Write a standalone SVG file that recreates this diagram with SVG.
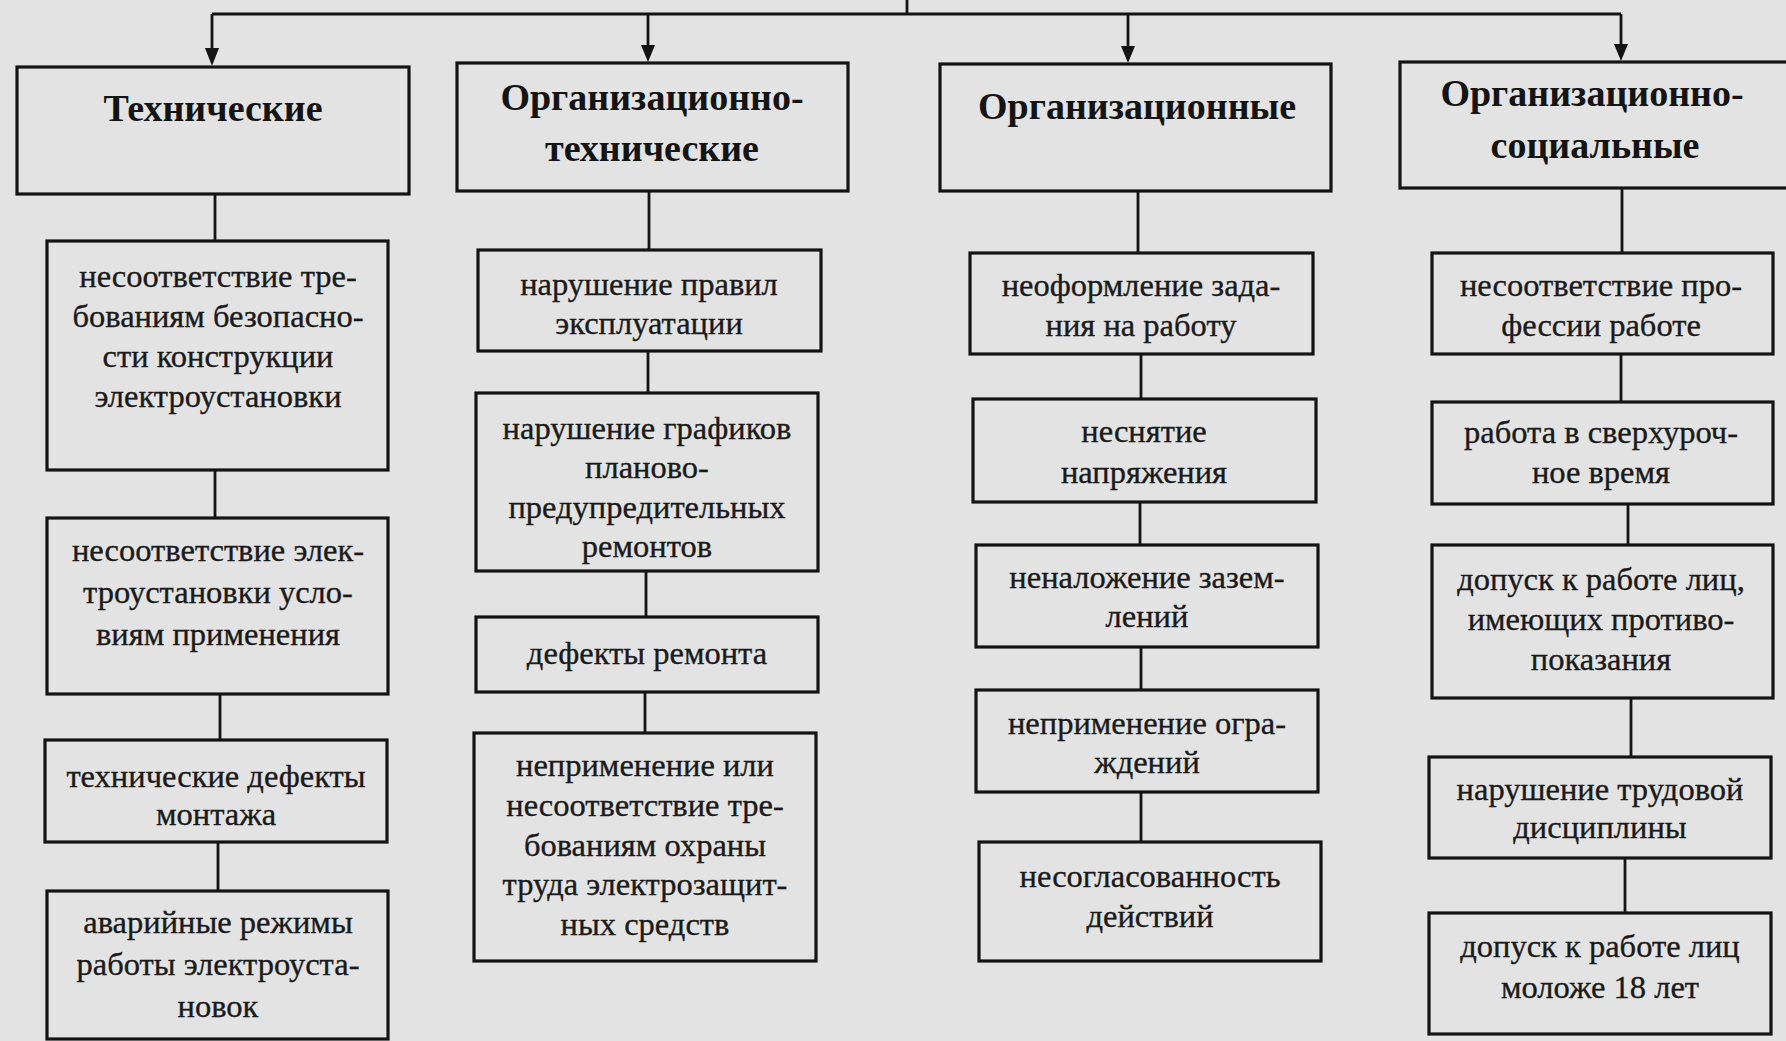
<svg xmlns="http://www.w3.org/2000/svg" width="1786" height="1041" viewBox="0 0 1786 1041">
<style>
.bg{fill:#e3e3e3}
.box{fill:#e3e3e3;stroke:#141414;stroke-width:3.2}
.ln{fill:none;stroke:#141414;stroke-width:2.8}
.h{font-family:"Liberation Serif","Times New Roman",serif;font-weight:bold;font-size:38px;fill:#141414;text-anchor:middle}
.t{font-family:"Liberation Serif","Times New Roman",serif;font-size:32.5px;fill:#1a1a1a;stroke:#1a1a1a;stroke-width:0.35;text-anchor:middle}
</style>
<rect class="bg" x="0" y="0" width="1786" height="1041"/>

<g id="connectors">
<path class="ln" d="M907,0 V14"/>
<path class="ln" d="M212,14 H1621"/>
<path class="ln" d="M212,14 V50"/>
<path d="M205,48 L219,48 L212,66 Z" fill="#141414"/>
<path class="ln" d="M648,14 V48"/>
<path d="M641,45 L655,45 L648,62 Z" fill="#141414"/>
<path class="ln" d="M1128,14 V48"/>
<path d="M1121,46 L1135,46 L1128,63 Z" fill="#141414"/>
<path class="ln" d="M1621,14 V46"/>
<path d="M1614,44 L1628,44 L1621,61 Z" fill="#141414"/>

<path class="ln" d="M215,194 V241"/>
<path class="ln" d="M215,470 V518"/>
<path class="ln" d="M220,694 V740"/>
<path class="ln" d="M218,842 V891"/>

<path class="ln" d="M649,191 V250"/>
<path class="ln" d="M648,351 V393"/>
<path class="ln" d="M646,571 V617"/>
<path class="ln" d="M645,692 V733"/>

<path class="ln" d="M1138,191 V253"/>
<path class="ln" d="M1141,354 V399"/>
<path class="ln" d="M1140,502 V545"/>
<path class="ln" d="M1141,647 V690"/>
<path class="ln" d="M1141,792 V842"/>

<path class="ln" d="M1622,188 V253"/>
<path class="ln" d="M1621,354 V402"/>
<path class="ln" d="M1628,504 V545"/>
<path class="ln" d="M1631,698 V757"/>
<path class="ln" d="M1625,858 V913"/>
</g>

<g id="n-tech">
<rect class="box" x="17" y="67" width="392" height="127"/>
<text class="h" x="213" y="121">Технические</text>
</g>
<g id="n-orgtech">
<rect class="box" x="457" y="63" width="391" height="128"/>
<text class="h" x="652" y="110">Организационно-</text>
<text class="h" x="652" y="161">технические</text>
</g>
<g id="n-org">
<rect class="box" x="940" y="64" width="391" height="127"/>
<text class="h" x="1137" y="119">Организационные</text>
</g>
<g id="n-orgsoc">
<rect class="box" x="1400" y="62" width="400" height="126"/>
<text class="h" x="1592" y="106">Организационно-</text>
<text class="h" x="1595" y="158">социальные</text>
</g>

<g id="n-t1">
<rect class="box" x="47" y="241" width="341" height="229"/>
<text class="t" x="218" y="287">несоответствие тре-</text>
<text class="t" x="218" y="327">бованиям безопасно-</text>
<text class="t" x="218" y="367">сти конструкции</text>
<text class="t" x="218" y="407">электроустановки</text>
</g>
<g id="n-t2">
<rect class="box" x="47" y="518" width="341" height="176"/>
<text class="t" x="218" y="561">несоответствие элек-</text>
<text class="t" x="218" y="603">троустановки усло-</text>
<text class="t" x="218" y="645">виям применения</text>
</g>
<g id="n-t3">
<rect class="box" x="45" y="740" width="342" height="102"/>
<text class="t" x="216" y="787">технические дефекты</text>
<text class="t" x="216" y="825">монтажа</text>
</g>
<g id="n-t4">
<rect class="box" x="47" y="891" width="341" height="148"/>
<text class="t" x="218" y="933">аварийные режимы</text>
<text class="t" x="218" y="975">работы электроуста-</text>
<text class="t" x="218" y="1017">новок</text>
</g>

<g id="n-ot1">
<rect class="box" x="478" y="250" width="343" height="101"/>
<text class="t" x="649" y="295">нарушение правил</text>
<text class="t" x="649" y="334">эксплуатации</text>
</g>
<g id="n-ot2">
<rect class="box" x="476" y="393" width="342" height="178"/>
<text class="t" x="647" y="439">нарушение графиков</text>
<text class="t" x="647" y="478">планово-</text>
<text class="t" x="647" y="518">предупредительных</text>
<text class="t" x="647" y="557">ремонтов</text>
</g>
<g id="n-ot3">
<rect class="box" x="476" y="617" width="342" height="75"/>
<text class="t" x="647" y="664">дефекты ремонта</text>
</g>
<g id="n-ot4">
<rect class="box" x="474" y="733" width="342" height="228"/>
<text class="t" x="645" y="776">неприменение или</text>
<text class="t" x="645" y="816">несоответствие тре-</text>
<text class="t" x="645" y="856">бованиям охраны</text>
<text class="t" x="645" y="895">труда электрозащит-</text>
<text class="t" x="645" y="935">ных средств</text>
</g>

<g id="n-o1">
<rect class="box" x="970" y="253" width="343" height="101"/>
<text class="t" x="1141" y="296">неоформление зада-</text>
<text class="t" x="1141" y="336">ния на работу</text>
</g>
<g id="n-o2">
<rect class="box" x="973" y="399" width="343" height="103"/>
<text class="t" x="1144" y="442">неснятие</text>
<text class="t" x="1144" y="483">напряжения</text>
</g>
<g id="n-o3">
<rect class="box" x="976" y="545" width="342" height="102"/>
<text class="t" x="1147" y="588">неналожение зазем-</text>
<text class="t" x="1147" y="627">лений</text>
</g>
<g id="n-o4">
<rect class="box" x="976" y="690" width="342" height="102"/>
<text class="t" x="1147" y="734">неприменение огра-</text>
<text class="t" x="1147" y="773">ждений</text>
</g>
<g id="n-o5">
<rect class="box" x="979" y="842" width="342" height="119"/>
<text class="t" x="1150" y="887">несогласованность</text>
<text class="t" x="1150" y="927">действий</text>
</g>

<g id="n-os1">
<rect class="box" x="1432" y="253" width="341" height="101"/>
<text class="t" x="1601" y="296">несоответствие про-</text>
<text class="t" x="1601" y="336">фессии работе</text>
</g>
<g id="n-os2">
<rect class="box" x="1432" y="402" width="341" height="102"/>
<text class="t" x="1601" y="443">работа в сверхуроч-</text>
<text class="t" x="1601" y="483">ное время</text>
</g>
<g id="n-os3">
<rect class="box" x="1432" y="545" width="341" height="153"/>
<text class="t" x="1601" y="590">допуск к работе лиц,</text>
<text class="t" x="1601" y="630">имеющих противо-</text>
<text class="t" x="1601" y="670">показания</text>
</g>
<g id="n-os4">
<rect class="box" x="1429" y="757" width="342" height="101"/>
<text class="t" x="1600" y="800">нарушение трудовой</text>
<text class="t" x="1600" y="838">дисциплины</text>
</g>
<g id="n-os5">
<rect class="box" x="1429" y="913" width="342" height="121"/>
<text class="t" x="1600" y="957">допуск к работе лиц</text>
<text class="t" x="1600" y="998">моложе 18 лет</text>
</g>
</svg>
